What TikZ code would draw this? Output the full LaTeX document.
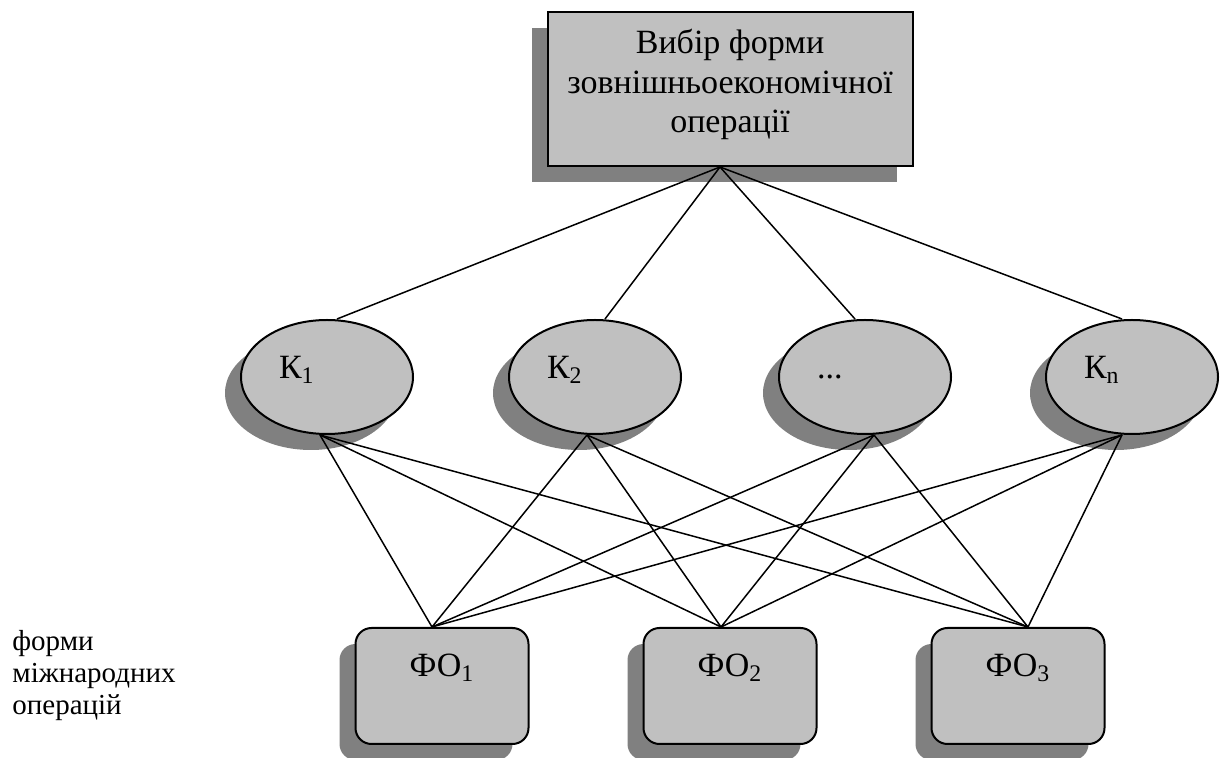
\documentclass[tikz,border=0pt]{standalone}
\usepackage{fontspec}
\setmainfont{Liberation Serif}
\usetikzlibrary{
		positioning,
		shapes.geometric,
		shadows
	}
\definecolor{boxgray}{RGB}{192,192,192}
\definecolor{shadegray}{RGB}{128,128,128}
\tikzset{
		offset shadow/.style={
				general shadow={fill=shadegray, shadow xshift=-8pt, shadow yshift=-8pt}
			},
		choicebox/.style={
				draw=black, line width=1pt, fill=boxgray, offset shadow,
				minimum width=182.5pt, minimum height=77pt, inner sep=0pt,
				align=center, text depth=8pt, font=\fontsize{17}{19.75}\selectfont
			},
		critnode/.style={
				ellipse, draw=black, line width=1pt, fill=boxgray, offset shadow,
				minimum width=86pt, minimum height=57pt, inner sep=0pt,
				text width=48pt, align=left, text height=11.5pt, text depth=10pt,
				font=\fontsize{17}{20}\selectfont
			},
		formbox/.style={
				rectangle, rounded corners=8pt, draw=black, line width=1pt, fill=boxgray, offset shadow,
				minimum width=86.5pt, minimum height=58pt, inner sep=0pt,
				text height=11.5pt, text depth=21pt,
				font=\fontsize{17}{20}\selectfont
			},
		link/.style={
				draw=black, line width=0.75pt
			}
	}

\begin{document}
\begin{tikzpicture}[x=0.5pt, y=-0.5pt]
		\useasboundingbox (0,0) rectangle (1227,758);
		\node[choicebox] (choice) at (730,89) {Вибір форми\\зовнішньоекономічної\\операції};
		\node[critnode] (k1) at (327,377) {К\textsubscript{1}};
		\node[critnode] (k2) at (595,377) {К\textsubscript{2}};
		\node[critnode] (k3) at (865,377) {...};
		\node[critnode] (kn) at (1132,377) {К\textsubscript{n}};
		\node[formbox] (fo1) at (442,686) {ФО\textsubscript{1}};
		\node[formbox] (fo2) at (730,686) {ФО\textsubscript{2}};
		\node[formbox] (fo3) at (1018,686) {ФО\textsubscript{3}};
		\node[anchor=west, align=left, inner sep=0pt, font=\fontsize{14.5}{16}\selectfont] (formsnote) at (12,676) {форми\\міжнародних\\операцій};
		\foreach \k/\dk in {k1/5pt, k2/5pt, k3/-5pt, kn/-5pt}
			\draw[link] ([xshift=-5pt]choice.south) -- ([xshift=\dk]\k.north);
		\foreach \k/\dk in {k1/-3.5pt, k2/-4pt, k3/4.5pt, kn/-5pt}
			\foreach \f/\df in {fo1/-5pt, fo2/-4.5pt, fo3/5pt}
				\draw[link] ([xshift=\dk]\k.south) -- ([xshift=\df]\f.north);
	\end{tikzpicture}
\end{document}
